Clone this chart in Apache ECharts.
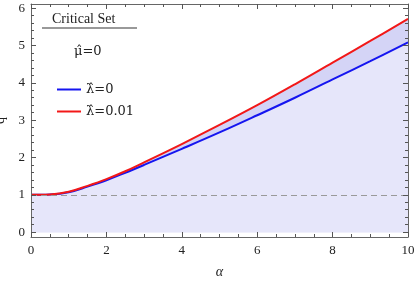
<!DOCTYPE html>
<html><head><meta charset="utf-8">
<script src="https://cdn.jsdelivr.net/npm/echarts@6/dist/echarts.min.js"></script>
<style>html,body{margin:0;padding:0;background:#fff}#c{width:415px;height:285px}</style>
</head><body><div id="c"></div>
<script>
const alphaValues = [0, 0.5, 1, 1.5, 2, 2.5, 3, 4, 5, 6, 7, 8, 9, 10];
const qLambda0 = [1, 1.01, 1.07, 1.22, 1.39, 1.59, 1.8, 2.23, 2.67, 3.13, 3.6, 4.09, 4.58, 5.08];
const qLambda001 = [1, 1.01, 1.08, 1.24, 1.42, 1.63, 1.87, 2.36, 2.87, 3.4, 3.96, 4.54, 5.12, 5.71];
const yTickLabels = [0, 1, 2, 3, 4, 5, 6];
const yMinorTicks = [];
for (let i = 0; i <= 30; i++) if (i % 5) yMinorTicks.push(+(i * 0.2).toFixed(1));
const seriesNames = ['λ̂=0', 'λ̂=0.01'];

const pair = (ys) => alphaValues.map((a, i) => [a, ys[i]]);
const font = '"Liberation Serif", serif';
const legendFont = '"DejaVu Serif", serif';
const axisColor = '#666';
const tickColor = '#555';
const txt = '#222';

const chart = echarts.init(document.getElementById('c'), null, {renderer: 'canvas'});
const xBase = {
  type: 'value', min: 0, max: 10, interval: 2, z: 10,
  axisLine: {show: true, onZero: false, lineStyle: {color: axisColor, width: 1}},
  axisTick: {show: true, inside: true, length: 5, lineStyle: {color: tickColor, width: 1}},
  minorTick: {show: true, splitNumber: 4, length: 3, lineStyle: {color: tickColor, width: 1}},
  splitLine: {show: false}
};
const yAxisDef = (pos, vals, len, withLine, labels) => ({
  type: 'value', min: -0.13, max: 6.11, z: 10, position: pos,
  axisLine: {show: withLine, onZero: false, lineStyle: {color: axisColor, width: 1}},
  splitLine: {show: false},
  axisTick: {show: true, inside: true, length: len, customValues: vals, lineStyle: {color: tickColor, width: 1}},
  axisLabel: labels ? {show: true, margin: 6, customValues: vals, fontFamily: font, fontSize: 13, color: txt}
                    : {show: false}
});
const yLeft = yAxisDef('left', yTickLabels, 5, true, true);
Object.assign(yLeft, {
  name: 'q', nameLocation: 'middle', nameGap: 22, nameRotate: 90,
  nameTextStyle: {fontFamily: font, fontSize: 14, color: txt}
});
chart.setOption({
  animation: false,
  textStyle: {fontFamily: font},
  grid: {left: 31, right: 7, top: 4, bottom: 48, containLabel: false, outerBoundsMode: 'none'},
  xAxis: [
    Object.assign({}, xBase, {
      position: 'bottom',
      name: 'α', nameLocation: 'middle', nameGap: 28,
      nameTextStyle: {fontFamily: font, fontSize: 14, fontStyle: 'italic', color: txt},
      axisLabel: {show: true, margin: 7, fontFamily: font, fontSize: 13, color: txt}
    }),
    Object.assign({}, xBase, {position: 'top', axisLabel: {show: false}})
  ],
  yAxis: [
    yLeft,
    yAxisDef('right', yTickLabels, 5, true, false),
    yAxisDef('left', yMinorTicks, 3, false, false),
    yAxisDef('right', yMinorTicks, 3, false, false)
  ],
  legend: {
    data: seriesNames,
    orient: 'vertical', left: 52, top: 78, itemGap: 9,
    icon: 'rect', itemWidth: 24, itemHeight: 2,
    textStyle: {fontFamily: legendFont, fontSize: 13, color: txt}
  },
  series: [
    {
      name: 'fillUpper', type: 'line', data: pair(qLambda001), smooth: 0.4,
      showSymbol: false, lineStyle: {width: 0}, z: 1,
      areaStyle: {color: '#d4d4f6', opacity: 1}, silent: true
    },
    {
      name: seriesNames[0], type: 'line', data: pair(qLambda0), smooth: 0.4,
      showSymbol: false, color: '#1515f0', lineStyle: {width: 2, color: '#1515f0'}, z: 2,
      areaStyle: {color: '#e6e6fa', opacity: 1},
      markLine: {
        silent: true, symbol: 'none', label: {show: false},
        lineStyle: {color: '#999', type: [6, 4], width: 1.2},
        data: [{yAxis: 1}]
      }
    },
    {
      name: seriesNames[1], type: 'line', data: pair(qLambda001), smooth: 0.4,
      showSymbol: false, color: '#f21818', lineStyle: {width: 2, color: '#f21818'}, z: 3
    }
  ],
  graphic: [
    {type: 'text', left: 52, top: 12, style: {text: 'Critical Set', fontFamily: font, fontSize: 14, fill: txt}},
    {type: 'line', shape: {x1: 42, y1: 28, x2: 137, y2: 28}, style: {stroke: '#777', lineWidth: 1.5}},
    {type: 'text', left: 74, top: 45, style: {text: 'μ̂=0', fontFamily: legendFont, fontSize: 13, fill: txt}}
  ]
});
</script></body></html>
